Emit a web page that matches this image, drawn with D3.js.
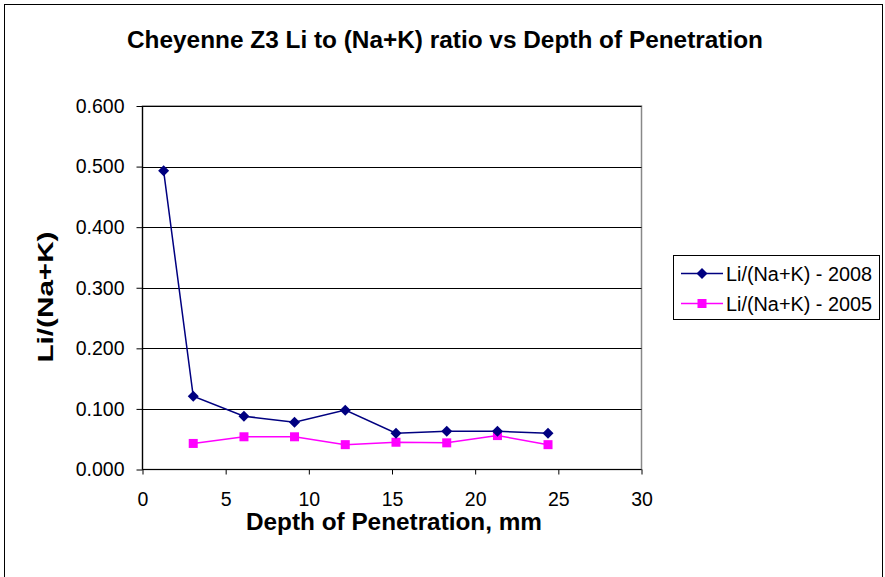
<!DOCTYPE html>
<html><head><meta charset="utf-8">
<script src="https://cdn.jsdelivr.net/npm/d3@7"></script>
<style>body{margin:0;background:#fff}svg{display:block}text{font-family:"Liberation Sans",Arial,sans-serif}</style>
</head><body>
<svg id="c" width="885" height="577"></svg>
<script>
const depth2008 = [1.27, 3.05, 6.10, 9.14, 12.19, 15.24, 18.29, 21.34, 24.38];
const ratio2008 = [0.493, 0.121, 0.088, 0.078, 0.098, 0.060, 0.063, 0.063, 0.060];
const depth2005 = [3.05, 6.10, 9.14, 12.19, 15.24, 18.29, 21.34, 24.38];
const ratio2005 = [0.043, 0.054, 0.054, 0.041, 0.045, 0.044, 0.056, 0.041];
const xTicks = [0, 5, 10, 15, 20, 25, 30];
const yTicks = [0, 0.1, 0.2, 0.3, 0.4, 0.5, 0.6];
const seriesNames = ["Li/(Na+K) - 2008", "Li/(Na+K) - 2005"];

const svg = d3.select("#c");
const L = 142.5, R = 641.5, T = 106, B = 469.5;
const x = d3.scaleLinear().domain([0, 30]).range([L, R]);
const y = d3.scaleLinear().domain([0, 0.6]).range([B, T]);

// outer border
svg.append("rect").attr("x", 4.5).attr("y", 4.5).attr("width", 878).attr("height", 580)
  .attr("fill", "none").attr("stroke", "#000").attr("stroke-width", 1);

// title
svg.append("text").attr("x", 445).attr("y", 48).attr("text-anchor", "middle")
  .attr("font-size", 23).attr("font-weight", "bold").attr("textLength", 636).attr("lengthAdjust", "spacingAndGlyphs")
  .text("Cheyenne Z3 Li to (Na+K) ratio vs Depth of Penetration");

// plot border
svg.append("rect").attr("x", L).attr("y", T).attr("width", R - L).attr("height", B - T)
  .attr("fill", "none").attr("stroke", "#888").attr("stroke-width", 1.5);

// gridlines
svg.append("g").selectAll("line").data(yTicks.filter(d => d > 0)).join("line")
  .attr("x1", L).attr("x2", R).attr("y1", d => Math.round(y(d)) + 0.5).attr("y2", d => Math.round(y(d)) + 0.5)
  .attr("stroke", "#000").attr("stroke-width", 1);

// axes
const yAxis = d3.axisLeft(y).tickValues(yTicks).tickFormat(d3.format(".3f")).tickSize(6).tickPadding(12);
const gy = svg.append("g").attr("transform", `translate(${L},0)`).call(yAxis);
const xAxis = d3.axisBottom(x).tickValues(xTicks).tickSize(5).tickPadding(18);
const gx = svg.append("g").attr("transform", `translate(0,${B})`).call(xAxis);
[gy, gx].forEach(g => {
  g.selectAll("path").attr("stroke", "#000").attr("stroke-width", 1.2);
  g.selectAll("line").attr("stroke", "#000");
  g.selectAll("text").attr("font-size", 19.5).attr("fill", "#000").style("font-family", "'Liberation Sans', Arial, sans-serif");
});
gy.select(".domain").attr("d", `M0,${T}V${B}`);
gx.select(".domain").attr("d", `M${L},0H${R}`);

// axis titles
svg.append("text").attr("x", 394).attr("y", 530).attr("text-anchor", "middle")
  .attr("font-size", 23).attr("font-weight", "bold").attr("textLength", 296).attr("lengthAdjust", "spacingAndGlyphs")
  .text("Depth of Penetration, mm");
svg.append("text").attr("transform", "translate(53,297) rotate(-90)").attr("text-anchor", "middle")
  .attr("font-size", 22).attr("font-weight", "bold").attr("textLength", 131).attr("lengthAdjust", "spacingAndGlyphs")
  .text("Li/(Na+K)");

const line = d3.line().x(d => x(d[0])).y(d => y(d[1]));
const d08 = depth2008.map((d, i) => [d, ratio2008[i]]);
const d05 = depth2005.map((d, i) => [d, ratio2005[i]]);

svg.append("path").datum(d05).attr("d", line).attr("fill", "none").attr("stroke", "#FF00FF").attr("stroke-width", 1.5);
svg.append("g").selectAll("rect").data(d05).join("rect")
  .attr("x", d => x(d[0]) - 4.5).attr("y", d => y(d[1]) - 4.5).attr("width", 9).attr("height", 9).attr("fill", "#FF00FF");

svg.append("path").datum(d08).attr("d", line).attr("fill", "none").attr("stroke", "#000080").attr("stroke-width", 1.5);
const diamond = "M0,-5.5L5.5,0L0,5.5L-5.5,0Z";
svg.append("g").selectAll("path").data(d08).join("path")
  .attr("transform", d => `translate(${x(d[0])},${y(d[1])})`).attr("d", diamond).attr("fill", "#000080");

// legend
const lg = svg.append("g");
lg.append("rect").attr("x", 673.5).attr("y", 255.5).attr("width", 206).attr("height", 64)
  .attr("fill", "#fff").attr("stroke", "#000").attr("stroke-width", 1);
const rows = [{c: "#000080", yy: 273.5, m: "d"}, {c: "#FF00FF", yy: 303.5, m: "s"}];
rows.forEach((r, i) => {
  lg.append("line").attr("x1", 681).attr("x2", 723).attr("y1", r.yy).attr("y2", r.yy).attr("stroke", r.c).attr("stroke-width", 1.5);
  if (r.m === "d") lg.append("path").attr("transform", `translate(702,${r.yy})`).attr("d", diamond).attr("fill", r.c);
  else lg.append("rect").attr("x", 697.5).attr("y", r.yy - 4.5).attr("width", 9).attr("height", 9).attr("fill", r.c);
  lg.append("text").attr("x", 726).attr("y", r.yy + 7).attr("font-size", 19.5).attr("textLength", 146).attr("lengthAdjust", "spacingAndGlyphs").text(seriesNames[i]);
});
</script>
</body></html>
